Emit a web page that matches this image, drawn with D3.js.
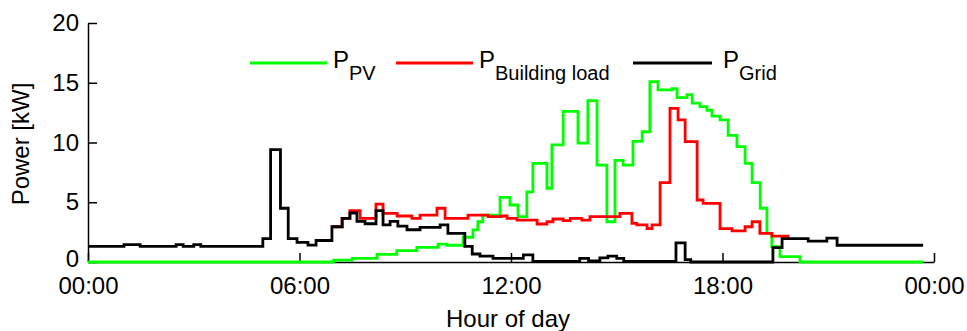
<!DOCTYPE html>
<html>
<head>
<meta charset="utf-8">
<script src="https://cdn.jsdelivr.net/npm/d3@7"></script>
<style>
  body { margin: 0; background: #ffffff; }
  svg text { font-family: Arial, "Liberation Sans", sans-serif; fill: #000000; }
</style>
</head>
<body>
<div id="powerChart"></div>
<script>
////////////////////////////////////////////////////////////////////////
//
// Data -- power over one day, read as 15 min steps (hour of day, kW)
//
////////////////////////////////////////////////////////////////////////
var pvHours = [0, 6.97, 7.5, 8.2, 8.76, 9.33, 9.93, 10.18, 10.64, 10.92, 11.06, 11.2, 11.69, 11.97, 12.2,
  12.45, 12.62, 13.02, 13.16, 13.48, 13.9, 14.18, 14.44, 14.72, 14.95, 15.18, 15.46, 15.72,
  15.94, 16.17, 16.57, 16.71, 16.99, 17.14, 17.36, 17.56, 17.7, 17.93, 18.16, 18.41, 18.64,
  18.84, 19.07, 19.26, 19.4, 19.63, 20.2, 23.69];
var pvKW = [0, 0.15, 0.3, 0.64, 0.95, 1.23, 1.5, 1.4, 2.07, 2.68, 3.37, 3.93, 5.4, 4.77, 3.8,
  5.86, 8.26, 6.17, 9.8, 12.6, 9.95, 13.5, 8.1, 3.37, 8.5, 8.1, 10.1, 10.9,
  15.1, 14.4, 14.5, 13.75, 14.0, 13.3, 13.0, 12.7, 12.2, 11.9, 10.6, 9.65, 8.26,
  6.64, 4.5, 2.4, 1.28, 0.45, 0, 0];

var loadHours = [6.92, 7.21, 7.43, 7.72, 8.17, 8.37, 8.77, 9.19, 9.42, 9.9, 10.13, 10.78, 11.35,
  11.73, 11.89, 12.17, 12.74, 13.02, 13.19, 13.48, 13.68, 14.01, 14.24, 15.09, 15.43, 15.57,
  15.86, 16.0, 16.23, 16.51, 16.74, 16.94, 17.28, 17.45, 17.93, 18.27, 18.64, 18.84, 19.06,
  19.4, 19.9];
var loadKW = [2.95, 3.65, 4.3, 3.65, 4.85, 4.07, 3.85, 3.65, 3.93, 4.5, 3.65, 3.93, 3.8,
  3.85, 3.65, 3.5, 3.18, 3.37, 3.6, 3.46, 3.65, 3.5, 3.8, 4.07, 3.24, 3.1,
  2.8, 3.1, 6.64, 12.86, 11.9, 10.07, 5.19, 4.9, 2.8, 2.6, 2.95, 3.37, 2.4,
  2.17, 2.17];

var gridHours = [0, 1.02, 1.48, 2.5, 2.7, 3.0, 3.2, 4.96, 5.18, 5.46, 5.68, 5.93, 6.24, 6.47,
  6.92, 7.21, 7.43, 7.63, 7.86, 8.17, 8.37, 8.57, 8.79, 9.05, 9.42, 9.99, 10.21, 10.69,
  10.9, 11.12, 11.49, 12.35, 12.62, 13.95, 14.2, 14.52, 14.75, 15.0, 15.2, 16.68, 16.94,
  17.1, 19.43, 19.69, 20.43, 20.96, 21.25, 23.69];
var gridKW = [1.3, 1.45, 1.3, 1.45, 1.3, 1.45, 1.3, 1.95, 9.4, 4.5, 1.95, 1.65, 1.42, 1.8,
  2.95, 3.65, 4.1, 3.4, 3.2, 4.3, 3.1, 3.4, 3.0, 2.7, 2.9, 3.1, 2.4, 1.3,
  0.67, 0.5, 0.3, 0.6, 0.05, 0.3, 0.1, 0.35, 0.5, 0.3, 0.05, 1.6, 0.2,
  0, 1.2, 1.95, 1.75, 2.0, 1.4, 1.4];

var hourTicks = [0, 6, 12, 18, 24];
var hourTickLabels = ["00:00", "06:00", "12:00", "18:00", "00:00"];
var powerTicks = [0, 5, 10, 15, 20];

var seriesNames = ["PV", "Building load", "Grid"];
var seriesColors = ["#00ff00", "#ff0000", "#000000"];


////////////////////////////////////////////////////////////////////////
//
// Draw the chart
//
////////////////////////////////////////////////////////////////////////
function init()
  {
  var width = 967;
  var height = 331;

  var svg = d3.select('#powerChart')
    .append('svg')
    .attr('width', width)
    .attr('height', height);

  svg.append('rect').attr('width', width).attr('height', height).attr('fill', '#ffffff');

  var x = d3.scaleLinear().domain([0, 24]).range([88, 934]);
  var y = d3.scaleLinear().domain([0, 20]).range([262, 23]);

  //Axes, ticks point inwards
  var xAxis = d3.axisBottom(x)
    .tickValues(hourTicks)
    .tickFormat(function(d, i) { return hourTickLabels[i]; })
    .tickSizeInner(-9)
    .tickSizeOuter(0)
    .tickPadding(15);

  var yAxis = d3.axisLeft(y)
    .tickValues(powerTicks)
    .tickSizeInner(-9)
    .tickSizeOuter(0)
    .tickPadding(9);

  var gx = svg.append('g').attr('transform', 'translate(0,262)').call(xAxis);
  var gy = svg.append('g').attr('transform', 'translate(88,0)').call(yAxis);

  [gx, gy].forEach(function(g)
    {
    g.selectAll('path, line').attr('stroke', '#000000').attr('stroke-width', 1.5);
    g.selectAll('text').style('font-size', '24px').attr('fill', '#000000');
    });

  //the "0" sits just above the time labels
  gy.selectAll('text').filter(function(d) { return d === 0; }).attr('dy', '0.2em');

  //Axis titles
  svg.append('text')
    .attr('x', 508)
    .attr('y', 327)
    .attr('text-anchor', 'middle')
    .style('font-size', '24px')
    .text('Hour of day');

  svg.append('text')
    .attr('transform', 'translate(29,144) rotate(-90)')
    .attr('text-anchor', 'middle')
    .style('font-size', '24px')
    .text('Power [kW]');

  //Step lines: PV first, then building load, grid on top
  var seriesData = [
    d3.zip(pvHours, pvKW),
    d3.zip(loadHours, loadKW),
    d3.zip(gridHours, gridKW)
  ];

  var line = d3.line()
    .x(function(d) { return x(d[0]); })
    .y(function(d) { return y(d[1]); })
    .curve(d3.curveStepAfter);

  svg.append('g')
    .selectAll('path')
    .data(seriesData)
    .enter()
    .append('path')
    .attr('d', line)
    .attr('fill', 'none')
    .attr('stroke', function(d, i) { return seriesColors[i]; })
    .attr('stroke-width', 2.8)
    .attr('stroke-linejoin', 'miter');

  //Legend
  var legendX = [250, 396, 633];
  var legend = svg.append('g')
    .selectAll('g')
    .data(seriesNames)
    .enter()
    .append('g')
    .attr('transform', function(d, i) { return 'translate(' + legendX[i] + ',63)'; });

  legend.append('line')
    .attr('x1', 0)
    .attr('x2', function(d, i) { return i == 2 ? 79 : 77; })
    .attr('stroke', function(d, i) { return seriesColors[i]; })
    .attr('stroke-width', 3);

  var label = legend.append('text')
    .attr('x', function(d, i) { return i == 2 ? 90 : 83; })
    .attr('y', 5)
    .style('font-size', '24px');

  label.append('tspan').text('P');
  label.append('tspan')
    .attr('dy', 12)
    .style('font-size', '20px')
    .text(function(d) { return d; });

  return;
  }

init();
</script>
</body>
</html>
